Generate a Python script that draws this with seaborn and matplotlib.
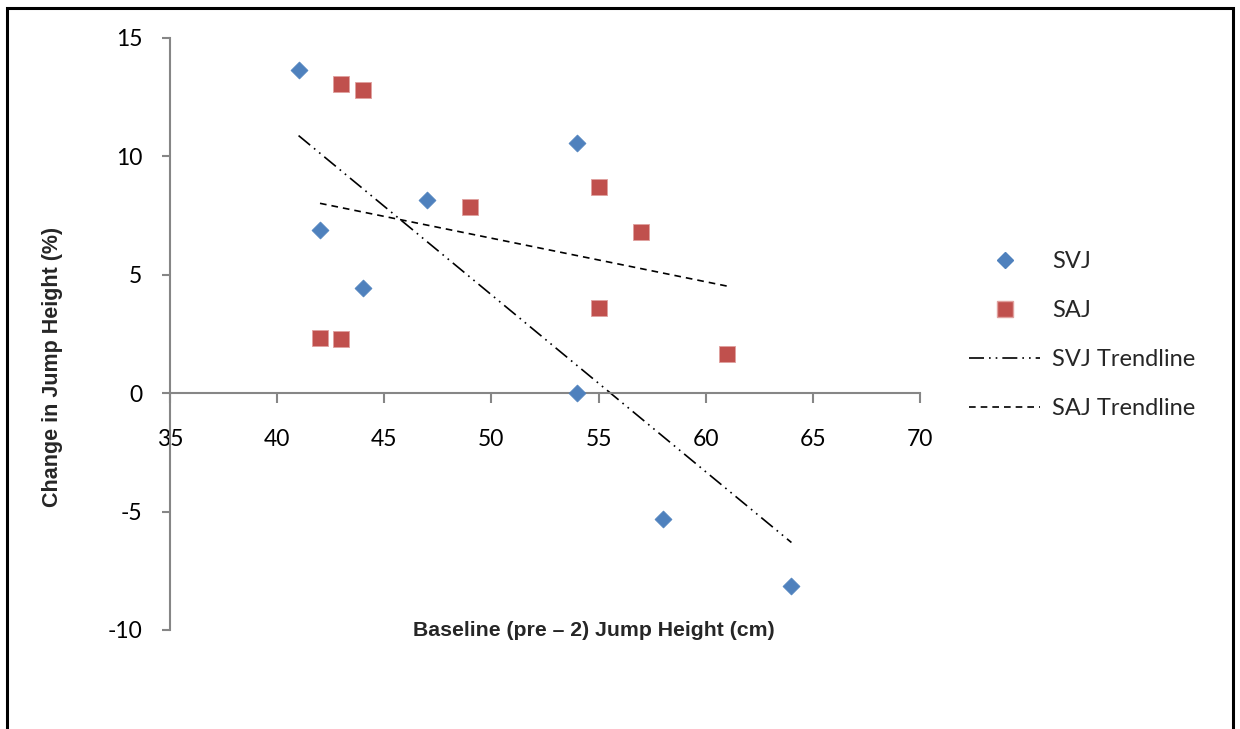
import numpy as np
import pandas as pd
import seaborn as sns
import matplotlib.pyplot as plt
from matplotlib.lines import Line2D
from matplotlib.patches import Rectangle

# data
svj_baseline = [41, 42, 44, 47, 54, 54, 58, 64]
svj_change = [13.65, 6.9, 4.45, 8.15, 10.55, 0.0, -5.3, -8.15]
saj_baseline = [43, 44, 49, 55, 57, 42, 43, 55, 61]
saj_change = [13.05, 12.8, 7.85, 8.7, 6.8, 2.35, 2.3, 3.6, 1.65]

x_ticks = [35, 40, 45, 50, 55, 60, 65, 70]
y_ticks = [-10, -5, 0, 5, 10, 15]

BLUE = "#4F81BD"
RED = "#C0504D"
GREY = "#868686"
TICK_FONT = ["Lato", "DejaVu Sans"]
LABEL_FONT = ["Liberation Sans", "DejaVu Sans"]

sns.set_style("white")
plt.rcParams["axes.unicode_minus"] = False

svj = pd.DataFrame({"x": svj_baseline, "y": svj_change})
saj = pd.DataFrame({"x": saj_baseline, "y": saj_change})

fig = plt.figure(figsize=(12.4, 7.29), dpi=100)
ax = fig.add_axes([170 / 1240, 1 - 630 / 729, 750 / 1240, 592 / 729])

sns.scatterplot(data=svj, x="x", y="y", ax=ax, marker="D", s=75,
                color=BLUE, edgecolor=BLUE, linewidth=0.5, zorder=3)
sns.scatterplot(data=saj, x="x", y="y", ax=ax, marker="s", s=120,
                color=RED, edgecolor="#E0A09E", linewidth=0.6, zorder=3)

# linear trendlines over the data range
svj_dash = (9, 3, 1, 3, 1, 3)
saj_dash = (4, 3)
sns.regplot(data=svj, x="x", y="y", ax=ax, scatter=False, ci=None, truncate=True,
            line_kws=dict(color="black", lw=1.2, dashes=svj_dash))
sns.regplot(data=saj, x="x", y="y", ax=ax, scatter=False, ci=None, truncate=True,
            line_kws=dict(color="black", lw=1.2, dashes=saj_dash))

ax.set_xlim(35, 70)
ax.set_ylim(-10, 15)
ax.set_xticks(x_ticks)
ax.set_yticks(y_ticks)
ax.set_xlabel("")
ax.set_ylabel("")

ax.spines["top"].set_visible(False)
ax.spines["right"].set_visible(False)
ax.spines["bottom"].set_position(("data", 0))
for side in ("left", "bottom"):
    ax.spines[side].set_color(GREY)
    ax.spines[side].set_linewidth(1.5)

ax.tick_params(axis="both", direction="out", length=6, width=1.5, color=GREY,
               labelsize=16.5, labelcolor="black")
ax.tick_params(axis="x", pad=19, length=7)
ax.tick_params(axis="y", pad=14, length=6)
ax.tick_params(left=True, bottom=True)
for lbl in ax.get_xticklabels() + ax.get_yticklabels():
    lbl.set_fontfamily(TICK_FONT)

fig.text(594 / 1240, 1 - 631 / 729, "Baseline (pre \u2013 2) Jump Height (cm)",
         ha="center", va="center", fontsize=15.3, fontweight="bold", family=LABEL_FONT)
fig.text(53 / 1240, 1 - 367 / 729, "Change in Jump Height (%)", rotation=90,
         ha="center", va="center", fontsize=15.5, fontweight="bold", family=LABEL_FONT)

handles = [
    Line2D([], [], ls="none", marker="D", ms=8, color=BLUE),
    Line2D([], [], ls="none", marker="s", ms=11, color=RED, mec="#E0A09E"),
    Line2D([], [], color="black", lw=1.2, dashes=svj_dash),
    Line2D([], [], color="black", lw=1.2, dashes=saj_dash),
]
labels = ["SVJ", "SAJ", "SVJ Trendline", "SAJ Trendline"]
fig.legend(handles, labels, loc="center left", bbox_to_anchor=(948 / 1240, 1 - 335 / 729),
           frameon=False, prop={"family": TICK_FONT, "size": 17},
           handlelength=3.0, handletextpad=0.5, labelspacing=1.18)

fig.patches.append(Rectangle((7 / 1240, -0.02), 1226 / 1240, 1.02 - 8 / 729,
                             transform=fig.transFigure, fill=False,
                             edgecolor="black", linewidth=2.2))

fig.savefig("out.png", dpi=100)
